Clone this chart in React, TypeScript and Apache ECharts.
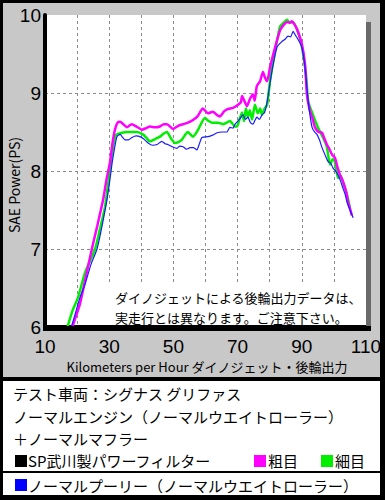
import React, { useEffect, useRef } from "react";
import * as echarts from "echarts";

// km/h, PS  — 粗目 (magenta)
const coarseData: [number, number][] = [
  [18.5, 6.0], [19.5, 6.12], [20.9, 6.3], [22.5, 6.6], [24.6, 7.0], [26.3, 7.3], [28.1, 7.63], [29.2, 7.9],
  [30.2, 8.1], [31.0, 8.35], [31.8, 8.53], [32.6, 8.62], [33.4, 8.63], [34.4, 8.6], [35.5, 8.56], [37, 8.6],
  [38.5, 8.57], [40.2, 8.53], [41.5, 8.55], [42.7, 8.57], [44.3, 8.56], [45.8, 8.57], [47, 8.6], [48, 8.6],
  [49.9, 8.54], [51.5, 8.58], [53, 8.6], [54.5, 8.62], [56, 8.65], [57.5, 8.7], [59.2, 8.8], [60.8, 8.74],
  [62.3, 8.76], [63.5, 8.72], [64.5, 8.7], [65.7, 8.76], [66.7, 8.79], [68.6, 8.81], [69.8, 8.84], [71.0, 8.88],
  [71.4, 8.96], [72.3, 8.88], [72.9, 8.83], [73.8, 8.92], [74.8, 8.98], [75.3, 8.9], [76, 9.09], [77.0, 9.15],
  [77.9, 9.27], [78.5, 9.2], [79.2, 9.15], [80.1, 9.33], [81.7, 9.59], [83.2, 9.8], [84.3, 9.87], [85.4, 9.91],
  [86.2, 9.9], [86.9, 9.92], [87.7, 9.88], [88.5, 9.82], [90, 9.63], [91, 9.37], [91.6, 8.98], [92.6, 8.76],
  [93.3, 8.68], [94.1, 8.56], [95.2, 8.5], [96.3, 8.49], [97.0, 8.42], [97.8, 8.34], [98.6, 8.28], [99.4, 8.21],
  [100.3, 8.17], [101.1, 8.05], [101.9, 7.95], [102.7, 7.88], [103.5, 7.78], [104.0, 7.7], [104.4, 7.6],
  [105.0, 7.52], [105.6, 7.43],
];

// 細目 (green)
const fineData: [number, number][] = [
  [17.0, 6.0], [18.5, 6.2], [20.3, 6.38], [22.5, 6.7], [25.6, 7.0], [27.2, 7.27], [28.7, 7.54], [29.5, 7.78],
  [30.2, 8.0], [31.0, 8.25], [31.8, 8.44], [32.4, 8.47], [34, 8.49], [35.5, 8.5], [37, 8.5], [38.7, 8.5],
  [40.5, 8.47], [41.5, 8.43], [42.7, 8.38], [44.3, 8.41], [45.8, 8.44], [47, 8.48], [48, 8.5], [49.2, 8.42],
  [50.5, 8.36], [51.5, 8.37], [52.6, 8.4], [54.5, 8.5], [56.1, 8.44], [57.7, 8.53], [59.8, 8.68], [61, 8.64],
  [62, 8.62], [63.9, 8.62], [65.5, 8.6], [67.6, 8.64], [69.2, 8.57], [69.8, 8.57], [70.5, 8.65], [71.4, 8.75],
  [72.0, 8.64], [72.6, 8.8], [73.2, 8.69], [73.8, 8.78], [74.5, 8.66], [75.4, 8.85], [76.3, 8.74], [77.0, 8.8],
  [77.6, 8.72], [78.4, 8.8], [79.2, 8.85], [80.1, 9.15], [81.7, 9.54], [83.2, 9.85], [84.3, 9.9], [85.4, 9.94],
  [86.3, 9.9], [87.3, 9.91], [88.8, 9.78], [90, 9.6], [91.3, 9.24], [92, 8.89], [93.2, 8.75], [94.1, 8.65],
  [95, 8.56], [96.6, 8.43], [97.8, 8.31], [98.8, 8.08], [99.6, 8.15], [100.3, 8.12], [101.3, 7.91], [102.0, 7.95],
  [102.8, 7.86], [104.1, 7.69], [105, 7.53],
];

// ノーマルプーリー (blue)
const normalData: [number, number][] = [
  [18.2, 6.0], [19.5, 6.18], [20.9, 6.38], [22.5, 6.55], [24.3, 6.8], [26.2, 7.0], [27.8, 7.3], [29.3, 7.63],
  [30.1, 7.85], [30.9, 8.1], [31.7, 8.3], [32.4, 8.44], [33.4, 8.47], [34.2, 8.43], [34.9, 8.4], [36, 8.4],
  [37.1, 8.43], [38.4, 8.45], [39.6, 8.44], [40.8, 8.41], [42.1, 8.36], [43.5, 8.33], [44.9, 8.34], [46.4, 8.38],
  [47.4, 8.35], [48.3, 8.34], [49.7, 8.31], [51.1, 8.29], [52, 8.32], [53, 8.31], [54.1, 8.28], [55.2, 8.3],
  [56.3, 8.3], [57.3, 8.27], [58.1, 8.35], [58.9, 8.43], [60.8, 8.44], [62.2, 8.46], [63.6, 8.49], [65.2, 8.5],
  [66.7, 8.5], [67.6, 8.56], [68.6, 8.55], [69.2, 8.6], [70.5, 8.66], [71.7, 8.72], [72.4, 8.66], [73.2, 8.69],
  [74.0, 8.62], [74.8, 8.6], [75.4, 8.65], [76, 8.69], [76.8, 8.66], [77.6, 8.72], [78.4, 8.75], [79.2, 8.89],
  [80.7, 9.28], [82.3, 9.59], [83.8, 9.66], [84.8, 9.69], [85.7, 9.73], [86.5, 9.72], [87.3, 9.79], [88.0, 9.74],
  [88.8, 9.69], [90, 9.59], [91, 9.33], [92, 8.89], [92.6, 8.7], [93.2, 8.56], [94.0, 8.5], [94.7, 8.47],
  [95.5, 8.4], [96.3, 8.3], [97.2, 8.21], [98.2, 8.12], [99.0, 8.1], [99.7, 8.04], [100.5, 8.0], [101.3, 7.95],
  [102.0, 7.88], [102.8, 7.78], [103.5, 7.7], [104.1, 7.6], [105, 7.5], [106, 7.4],
];

const xAxisTitle = "Kilometers per Hour ダイノジェット・後輪出力";
const yAxisTitle = "SAE Power(PS)";
const noteLines = ["ダイノジェットによる後輪出力データは、", "実走行とは異なります。ご注意下さい。"];
const infoLines = ["テスト車両：シグナス グリファス", "ノーマルエンジン（ノーマルウエイトローラー）", "＋ノーマルマフラー"];
const filterLabel = "SP武川製パワーフィルター";
const coarseLabel = "粗目";
const fineLabel = "細目";
const normalLabel = "ノーマルプーリー（ノーマルウエイトローラー）";

const FONT = "'Noto Sans CJK JP', 'Noto Sans', sans-serif";
const NUM_FONT = "'Liberation Sans', Arial, sans-serif";

export default function App() {
  const ref = useRef<HTMLDivElement>(null);
  useEffect(() => {
    if (!ref.current) return;
    const chart = echarts.init(ref.current, undefined, { renderer: "svg" });
    const txt = (x: number, y: number, text: string, size: number, extra: any = {}) => ({
      type: "text",
      x,
      y,
      z: 20,
      style: {
        text,
        fill: "#000",
        font: `${size}px ${FONT}`,
        lineHeight: size,
        textAlign: "left",
        textVerticalAlign: "middle",
        ...(extra.style || {}),
      },
      ...(extra.el || {}),
    });
    const sq = (x: number, y: number, color: string) => ({
      type: "rect",
      z: 20,
      shape: { x, y, width: 12, height: 12 },
      style: { fill: color },
    });
    chart.setOption({
      animation: false,
      backgroundColor: "transparent",
      grid: {
        left: 45,
        top: 15,
        right: 19,
        bottom: 173,
        show: true,
        backgroundColor: "#fff",
        borderWidth: 0,
      },
      xAxis: {
        type: "value",
        min: 10,
        max: 110,
        interval: 10,
        axisLine: { show: true, onZero: false, lineStyle: { color: "#000", width: 4 } },
        axisTick: { show: false },
        axisLabel: {
          margin: 12,
          fontSize: 19,
          lineHeight: 15,
          color: "#000",
          fontFamily: NUM_FONT,
          formatter: (v: number) => ((v - 10) % 20 === 0 ? String(v) : ""),
        },
        splitLine: {
          show: true,
          showMaxLine: false,
          showMinLine: false,
          lineStyle: { color: "#8a8a8a", type: [3, 3], width: 1 },
        },
      },
      yAxis: {
        type: "value",
        min: 6,
        max: 10,
        interval: 1,
        axisLine: { show: true, lineStyle: { color: "#000", width: 4 } },
        axisTick: { show: false },
        axisLabel: { margin: 4, fontSize: 19, lineHeight: 14, color: "#000", fontFamily: NUM_FONT },
        splitLine: {
          show: true,
          showMaxLine: false,
          showMinLine: false,
          lineStyle: { color: "#8a8a8a", type: [3, 3], width: 1 },
        },
      },
      series: [
        {
          name: fineLabel,
          type: "line",
          data: fineData,
          showSymbol: false,
          smooth: 0.2,
          lineStyle: { color: "#00ee00", width: 2.5 },
          z: 3,
        },
        {
          name: coarseLabel,
          type: "line",
          data: coarseData,
          showSymbol: false,
          smooth: 0.2,
          lineStyle: { color: "#ff00ff", width: 2.5 },
          z: 4,
        },
        {
          name: "ノーマル",
          type: "line",
          data: normalData,
          showSymbol: false,
          smooth: 0.2,
          lineStyle: { color: "#1a1aff", width: 1.2 },
          z: 5,
        },
      ],
      graphic: [
        { type: "rect", z: 10, shape: { x: 366, y: 22, width: 5, height: 309 }, style: { fill: "#6a6a6a" } },
        { type: "rect", z: 10, shape: { x: 43, y: 326, width: 328, height: 5 }, style: { fill: "#000" } },
        { type: "rect", z: 10, shape: { x: 108, y: 283, width: 258, height: 42 }, style: { fill: "#fff" } },
        txt(115, 297, noteLines[0], 13),
        txt(115, 317, noteLines[1], 13),
        txt(207, 366, xAxisTitle, 13, { style: { textAlign: "center" } }),
        txt(14, 185, yAxisTitle, 14, { style: { textAlign: "center" }, el: { rotation: Math.PI / 2 } }),
        txt(13, 393, infoLines[0], 15),
        txt(13, 416, infoLines[1], 15),
        txt(13, 438, infoLines[2], 15),
        sq(15, 455, "#000"),
        txt(28, 460, filterLabel, 15),
        sq(254, 455, "#ff00ff"),
        txt(268, 460, coarseLabel, 15),
        sq(321, 455, "#00ee00"),
        txt(335, 460, fineLabel, 15),
        sq(15, 479, "#0000ff"),
        txt(28, 485, normalLabel, 15),
      ],
    });
    return () => chart.dispose();
  }, []);

  return (
    <div style={{ position: "fixed", left: 0, top: 0, width: 385, height: 500, background: "#000" }}>
      <div style={{ position: "absolute", left: 3, top: 3, width: 377, height: 374, background: "#c8c8c8" }} />
      <div style={{ position: "absolute", left: 3, top: 381, width: 377, height: 114, background: "#fff" }} />
      <div style={{ position: "absolute", left: 3, top: 471, width: 377, height: 2, background: "#000" }} />
      <div ref={ref} style={{ position: "absolute", left: 0, top: 0, width: 385, height: 500 }} />
    </div>
  );
}
